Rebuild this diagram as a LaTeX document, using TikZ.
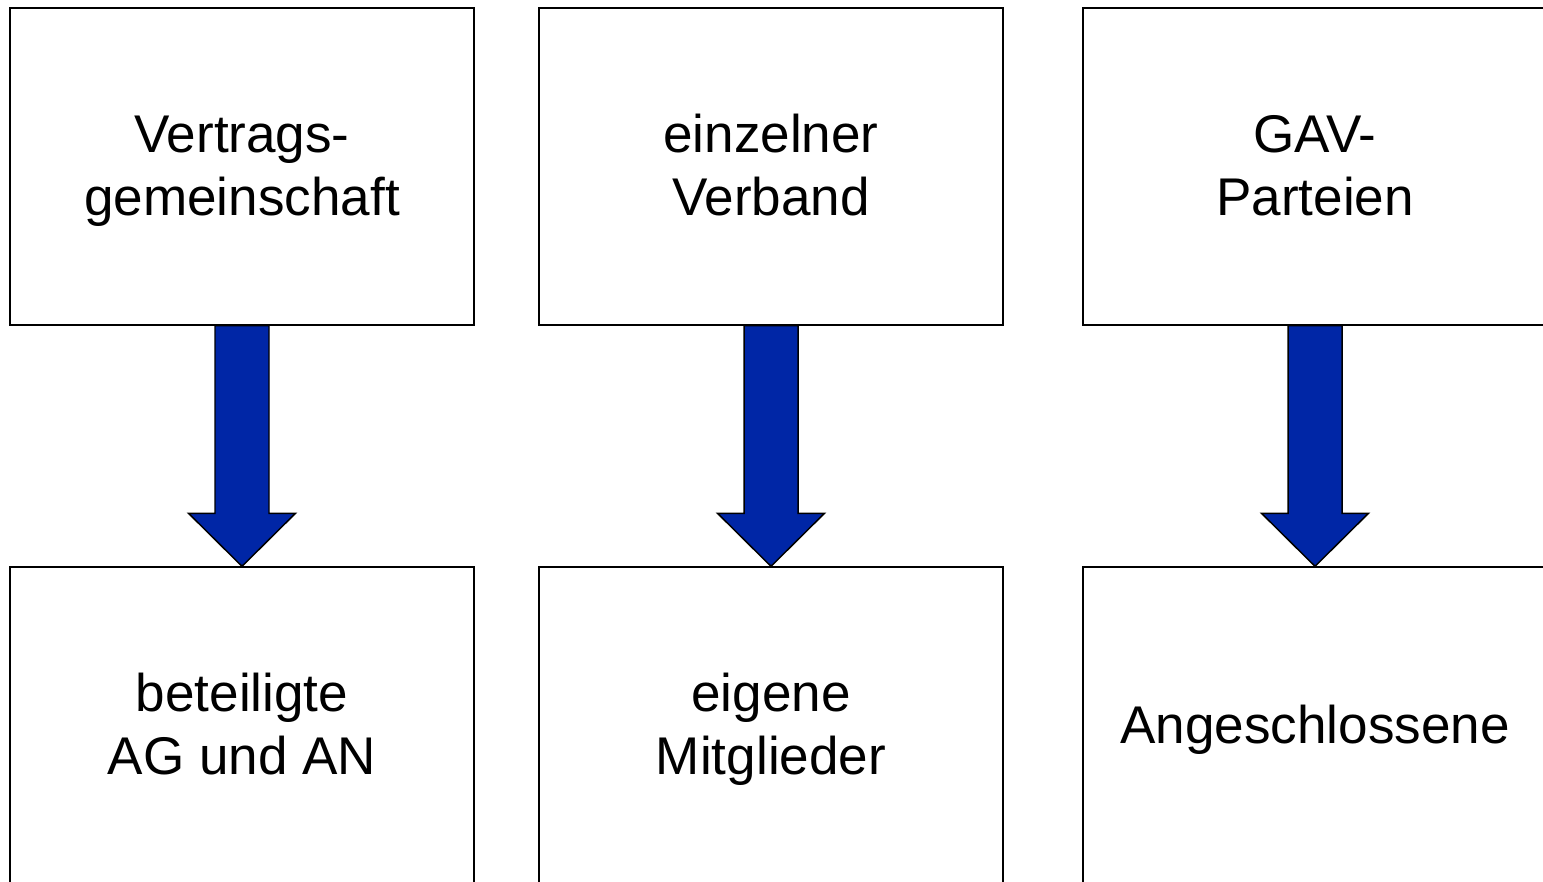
\documentclass[tikz,border=0pt]{standalone}
\usepackage{fontspec}
\setmainfont{Liberation Sans}
\usetikzlibrary{calc}
\definecolor{pfeilblau}{RGB}{0,38,166}
\newcommand{\zeile}{\rule[-0.22\baselineskip]{0pt}{\baselineskip}}

\begin{document}
\begin{tikzpicture}[x=0.02cm,y=-0.02cm,
  box/.style={draw,line width=0.85pt,minimum width=9.28cm,minimum height=6.34cm,
    align=center,inner sep=0pt,font=\fontsize{30.2}{35.8}\selectfont},
  pfeil/.style={fill=pfeilblau,draw=black,line width=0.85pt,line join=miter}]
\clip (0,0) rectangle (1543,882);
% obere Reihe
\node[box] (o1) at (242,166.5) {\zeile Vertrags-\\\zeile gemeinschaft};
\node[box] (o2) at (771,166.5) {\zeile einzelner\\\zeile Verband};
\node[box] (o3) at (1315,166.5) {\zeile GAV-\\\zeile Parteien};
% untere Reihe
\node[box] (u1) at (242,725.5) {\zeile beteiligte\\\zeile AG und AN};
\node[box] (u2) at (771,725.5) {\zeile eigene\\\zeile Mitglieder};
\node[box] (u3) at (1315,725.5) {\zeile Angeschlossene};
% Pfeile
\foreach \i in {1,2,3}
  \filldraw[pfeil] ($(o\i.south)+(-27,0)$) -- ($(u\i.north)+(-27,-53)$)
    -- ($(u\i.north)+(-53.5,-53)$) -- (u\i.north) -- ($(u\i.north)+(53.5,-53)$)
    -- ($(u\i.north)+(27,-53)$) -- ($(o\i.south)+(27,0)$) --cycle;
\end{tikzpicture}
\end{document}
